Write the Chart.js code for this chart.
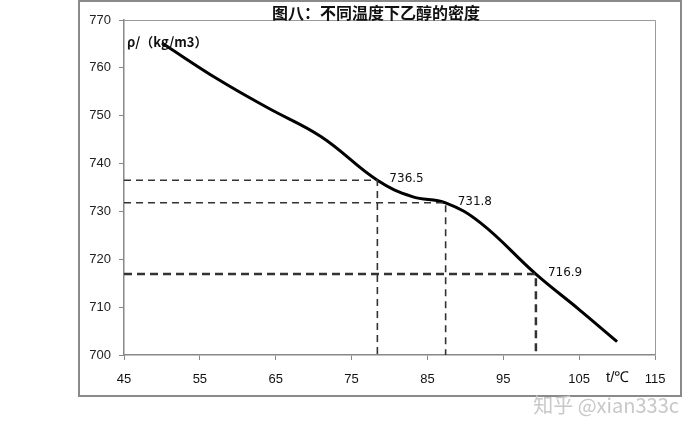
<!DOCTYPE html>
<html>
<head>
<meta charset="utf-8">
<script src="https://cdn.jsdelivr.net/npm/chart.js@4"></script>
<style>
  html, body { margin: 0; padding: 0; background: #fff; }
  #wrap { width: 684px; height: 430px; }
</style>
</head>
<body>
<div id="wrap"><canvas id="grafico" width="684" height="430"></canvas></div>
<script>
// dados
const temperaturas = [50, 57.5, 64, 71, 78.4, 83, 87.4, 92, 99.3, 105, 110];
const densidades = [765.2, 757.5, 751.6, 745.6, 736.5, 733.1, 731.8, 727.6, 716.9, 709.5, 702.8];
const pontosMarcados = [
    { t: 78.4, rho: 736.5, label: '736.5' },
    { t: 87.4, rho: 731.8, label: '731.8' },
    { t: 99.3, rho: 716.9, label: '716.9' }
];
const ticksX = [45, 55, 65, 75, 85, 95, 105, 115];
const ticksY = [700, 710, 720, 730, 740, 750, 760, 770];
const titulo = '图八：不同温度下乙醇的密度';
const eixoY = 'ρ/（kg/m3）';
const eixoX = 't/℃';
const marcaDagua = '知乎 @xian333c';

const fonteNum = '"Liberation Sans Narrow", "Liberation Sans", sans-serif';
const fonteCJK = '"Noto Sans CJK SC", "Noto Sans", sans-serif';

const curva = temperaturas.map((t, i) => ({ x: t, y: densidades[i] }));

// linhas tracejadas de referência
const tracejados = pontosMarcados.map((p, i) => ({
    data: [{ x: ticksX[0], y: p.rho }, { x: p.t, y: p.rho }, { x: p.t, y: ticksY[0] }],
    borderColor: '#333',
    borderWidth: i === 2 ? 2.5 : 1.6,
    borderDash: i === 2 ? [8, 5] : [7, 5],
    pointRadius: 0,
    showLine: true,
    tension: 0,
    fill: false
}));

const extras = {
    id: 'extras',
    afterDraw(chart) {
        const c = chart.ctx;
        const a = chart.chartArea;
        const sx = chart.scales.x, sy = chart.scales.y;
        c.save();
        // moldura externa
        c.strokeStyle = '#8a8a8a';
        c.lineWidth = 2;
        c.strokeRect(79, 1, 602, 395);
        // borda do gráfico
        c.strokeStyle = '#9a9a9a';
        c.lineWidth = 1;
        c.beginPath();
        c.moveTo(a.left, a.top + 0.5);
        c.lineTo(a.right + 0.5, a.top + 0.5);
        c.lineTo(a.right + 0.5, a.bottom);
        c.stroke();
        // título
        c.fillStyle = '#111';
        c.font = 'bold 16px ' + fonteCJK;
        c.textAlign = 'center';
        c.textBaseline = 'middle';
        c.fillText(titulo, 376, 13);
        // rótulos dos eixos
        c.textAlign = 'left';
        c.font = 'bold 13px ' + fonteCJK;
        c.fillText(eixoY, 127, 42);
        c.font = '15px ' + fonteNum;
        c.fillText(eixoX, 606, 378);
        // valores marcados
        c.font = '12px "DejaVu Sans", sans-serif';
        c.fillStyle = '#111';
        pontosMarcados.forEach(p => {
            c.fillText(p.label, sx.getPixelForValue(p.t) + 12, sy.getPixelForValue(p.rho) - 1);
        });
        // marca d'água
        c.fillStyle = '#c8c8c8';
        c.font = '20px ' + fonteCJK;
        c.textAlign = 'right';
        c.fillText(marcaDagua, 679, 405);
        c.restore();
    }
};

const ctx = document.getElementById('grafico').getContext('2d');
new Chart(ctx, {
    type: 'scatter',
    data: {
        datasets: [
            ...tracejados,
            {
                data: curva,
                borderColor: '#000',
                borderWidth: 3,
                pointRadius: 0,
                showLine: true,
                tension: 0.4,
                fill: false
            }
        ]
    },
    options: {
        responsive: false,
        animation: false,
        layout: { padding: { left: 78, right: 29, top: 20, bottom: 36 } },
        plugins: { legend: { display: false }, tooltip: { enabled: false } },
        scales: {
            x: {
                type: 'linear',
                min: 45,
                max: 115,
                afterBuildTicks: s => { s.ticks = ticksX.map(v => ({ value: v })); },
                afterFit: s => { s.height = 39; },
                grid: { drawOnChartArea: false, drawTicks: true, tickLength: 5, color: '#888' },
                border: { color: '#888', width: 1.5 },
                ticks: { color: '#111', font: { family: fonteNum, size: 13 }, padding: 12, maxRotation: 0 }
            },
            y: {
                type: 'linear',
                min: 700,
                max: 770,
                afterBuildTicks: s => { s.ticks = ticksY.map(v => ({ value: v })); },
                afterFit: s => { s.width = 46; },
                grid: { drawOnChartArea: false, drawTicks: true, tickLength: 5, color: '#888' },
                border: { color: '#888', width: 1.5 },
                ticks: { color: '#222', font: { family: fonteNum, size: 13 }, padding: 8 }
            }
        }
    },
    plugins: [extras]
});
</script>
</body>
</html>
